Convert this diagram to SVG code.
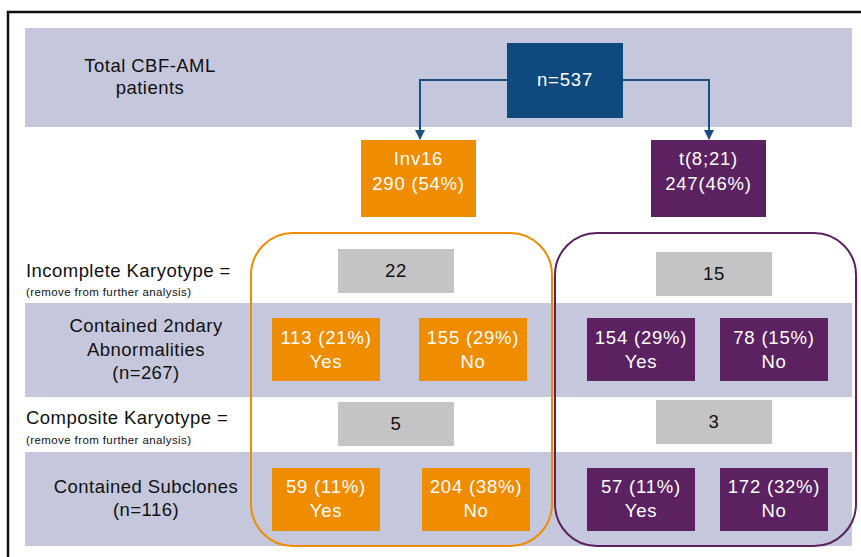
<svg xmlns="http://www.w3.org/2000/svg" width="861" height="557" viewBox="0 0 861 557">
<defs>
<style>
text{font-family:"Liberation Sans",Arial,Helvetica,sans-serif;}
.band{fill:#C5C8DC;}
.lbl{font-size:18.5px;fill:#111;letter-spacing:0.45px;}
.lblc{font-size:18.5px;fill:#111;text-anchor:middle;letter-spacing:0.45px;}
.small{font-size:11.5px;fill:#111;letter-spacing:0.4px;}
.wt{font-size:18.5px;fill:#fff;text-anchor:middle;letter-spacing:0.8px;}
.gt{font-size:18.5px;fill:#111;text-anchor:middle;letter-spacing:0.8px;}
.or{fill:#F08C00;}
.pu{fill:#5B2160;}
.gr{fill:#C5C3C6;}
.conn{fill:none;stroke:#1A4F82;stroke-width:2;}
</style>
<marker id="ah" viewBox="0 0 10 10" refX="9" refY="5" markerWidth="5.5" markerHeight="5" orient="auto" markerUnits="strokeWidth">
<path d="M0,0 L10,5 L0,10 z" fill="#1A4F82"/>
</marker>
</defs>
<rect x="0" y="0" width="861" height="557" fill="#fff"/>
<path d="M8,557 L8,12 L861,12" fill="none" stroke="#111" stroke-width="2.5"/>
<g id="bands">
<rect class="band" x="25" y="28" width="827" height="99"/>
<rect class="band" x="25" y="303" width="827" height="94"/>
<rect class="band" x="25" y="452" width="827" height="94"/>
</g>
<g id="labels">
<text class="lblc" x="150" y="72">Total CBF-AML</text>
<text class="lblc" x="150" y="94">patients</text>
<text class="lbl" x="26" y="277">Incomplete Karyotype =</text>
<text class="small" x="26" y="296">(remove from further analysis)</text>
<text class="lblc" x="146" y="332">Contained 2ndary</text>
<text class="lblc" x="146" y="356">Abnormalities</text>
<text class="lblc" x="146" y="379">(n=267)</text>
<text class="lbl" x="26" y="424">Composite Karyotype =</text>
<text class="small" x="26" y="444">(remove from further analysis)</text>
<text class="lblc" x="146" y="493">Contained Subclones</text>
<text class="lblc" x="146" y="516">(n=116)</text>
</g>
<g id="groups">
<rect x="251" y="233" width="301" height="313" rx="42" fill="none" stroke="#F08C00" stroke-width="2"/>
<rect x="555" y="233" width="301" height="313" rx="42" fill="none" stroke="#5B2160" stroke-width="2"/>
</g>
<g id="connectors">
<path class="conn" d="M507,80 L420,80 L420,139" marker-end="url(#ah)"/>
<path class="conn" d="M623,80 L709,80 L709,139" marker-end="url(#ah)"/>
</g>
<g id="total">
<rect x="507" y="43" width="116" height="75" fill="#0F4A7E"/>
<text class="wt" x="565" y="86">n=537</text>
</g>
<g id="inv16">
<rect class="or" x="361" y="140" width="115" height="77"/>
<text class="wt" x="418.5" y="165">Inv16</text>
<text class="wt" x="418.5" y="190">290 (54%)</text>
</g>
<g id="t821">
<rect class="pu" x="651" y="140" width="115" height="77"/>
<text class="wt" x="708.5" y="165">t(8;21)</text>
<text class="wt" x="708.5" y="190">247(46%)</text>
</g>
<g id="inc-inv">
<rect class="gr" x="338" y="249" width="116" height="44"/>
<text class="gt" x="396" y="277">22</text>
</g>
<g id="inc-t">
<rect class="gr" x="656" y="252" width="116" height="44"/>
<text class="gt" x="714" y="280">15</text>
</g>
<g id="sec-inv-yes">
<rect class="or" x="272" y="318" width="108" height="63"/>
<text class="wt" x="326" y="344">113 (21%)</text>
<text class="wt" x="326" y="368">Yes</text>
</g>
<g id="sec-inv-no">
<rect class="or" x="419" y="318" width="108" height="63"/>
<text class="wt" x="473" y="344">155 (29%)</text>
<text class="wt" x="473" y="368">No</text>
</g>
<g id="sec-t-yes">
<rect class="pu" x="587" y="318" width="108" height="63"/>
<text class="wt" x="641" y="344">154 (29%)</text>
<text class="wt" x="641" y="368">Yes</text>
</g>
<g id="sec-t-no">
<rect class="pu" x="720" y="318" width="108" height="63"/>
<text class="wt" x="774" y="344">78 (15%)</text>
<text class="wt" x="774" y="368">No</text>
</g>
<g id="comp-inv">
<rect class="gr" x="338" y="402" width="116" height="44"/>
<text class="gt" x="396" y="430">5</text>
</g>
<g id="comp-t">
<rect class="gr" x="656" y="400" width="116" height="44"/>
<text class="gt" x="714" y="428">3</text>
</g>
<g id="sub-inv-yes">
<rect class="or" x="272" y="468" width="108" height="63"/>
<text class="wt" x="326" y="493">59 (11%)</text>
<text class="wt" x="326" y="517">Yes</text>
</g>
<g id="sub-inv-no">
<rect class="or" x="422" y="468" width="108" height="63"/>
<text class="wt" x="476" y="493">204 (38%)</text>
<text class="wt" x="476" y="517">No</text>
</g>
<g id="sub-t-yes">
<rect class="pu" x="587" y="468" width="108" height="63"/>
<text class="wt" x="641" y="493">57 (11%)</text>
<text class="wt" x="641" y="517">Yes</text>
</g>
<g id="sub-t-no">
<rect class="pu" x="720" y="468" width="108" height="63"/>
<text class="wt" x="774" y="493">172 (32%)</text>
<text class="wt" x="774" y="517">No</text>
</g>
</svg>
